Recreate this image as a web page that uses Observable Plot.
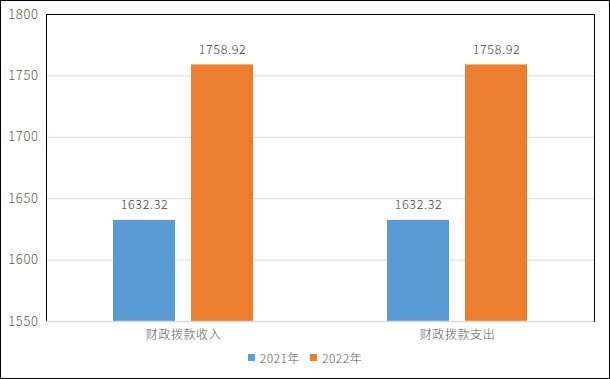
<!DOCTYPE html>
<html>
<head>
<meta charset="utf-8">
<script src="https://cdn.jsdelivr.net/npm/d3@7"></script>
<script src="https://cdn.jsdelivr.net/npm/@observablehq/plot@0.6"></script>
<style>
  html, body { margin: 0; padding: 0; background: #fff; }
  #wrap { width: 610px; height: 379px; box-sizing: border-box; border: 1px solid #000; position: relative; font-family: "Noto Sans CJK SC", "Noto Sans", sans-serif; }
  #legend { position: absolute; left: 0; right: 0; top: 348px; display: flex; justify-content: center; align-items: center; gap: 10px; font-size: 12px; color: #595959; font-weight: 300; letter-spacing: 0.5px; }
  #legend .item { display: flex; align-items: center; gap: 5px; }
  #legend .sw { width: 7px; height: 7px; display: inline-block; }
  svg text { font-weight: 300; letter-spacing: 0.6px; }
</style>
</head>
<body>
<div id="wrap"><div id="chart"></div><div id="legend"></div></div>
<script>
const categories = ["财政拨款收入", "财政拨款支出"];
const years = ["2021年", "2022年"];
const values2021 = [1632.32, 1632.32];
const values2022 = [1758.92, 1758.92];
const yTicks = [1550, 1600, 1650, 1700, 1750, 1800];
const colors = ["#5b9bd5", "#ed7d31"];

const data2021 = categories.map((c, i) => ({category: c, year: years[0], value: values2021[i]}));
const data2022 = categories.map((c, i) => ({category: c, year: years[1], value: values2022[i]}));

const fmt = d3.format(".2f");
const font = "Noto Sans CJK SC, Noto Sans, sans-serif";

const chart = Plot.plot({
  width: 608,
  height: 342,
  marginTop: 13,
  marginLeft: 45,
  marginRight: 15,
  marginBottom: 22,
  style: {fontFamily: font, background: "white"},
  x: {domain: categories, padding: 0, label: null, tickSize: 0, tickPadding: 8},
  y: {domain: [yTicks[0], yTicks[yTicks.length - 1]], ticks: yTicks, label: null, tickSize: 0, tickPadding: 8, tickFormat: d3.format("d")},
  marks: [
    Plot.ruleY(yTicks, {stroke: "#d9d9d9", strokeWidth: 1}),
    Plot.barY(data2021, {x: "category", y: "value", fill: colors[0], insetLeft: 67, insetRight: 145, clip: true}),
    Plot.barY(data2022, {x: "category", y: "value", fill: colors[1], insetLeft: 145, insetRight: 67, clip: true}),
    Plot.text(data2021, {x: "category", y: "value", text: d => fmt(d.value), dx: -39, dy: -15, fill: "#404040", fontSize: 12.5}),
    Plot.text(data2022, {x: "category", y: "value", text: d => fmt(d.value), dx: 39, dy: -15, fill: "#404040", fontSize: 12.5}),
    Plot.frame({stroke: "#000"}),
    Plot.ruleY([yTicks[0]], {stroke: "#d9d9d9", strokeWidth: 1.5}),
    Plot.axisY({ticks: yTicks, tickFormat: d3.format("d"), tickSize: 0, tickPadding: 8, fontSize: 13, fill: "#595959"}),
    Plot.axisX({tickSize: 0, tickPadding: 9, fontSize: 12, fill: "#595959"})
  ]
});
document.getElementById("chart").appendChild(chart);

const legend = document.getElementById("legend");
years.forEach((y, i) => {
  const item = document.createElement("span");
  item.className = "item";
  const sw = document.createElement("span");
  sw.className = "sw";
  sw.style.background = colors[i];
  const t = document.createElement("span");
  t.textContent = y;
  item.appendChild(sw);
  item.appendChild(t);
  legend.appendChild(item);
});
</script>
</body>
</html>
